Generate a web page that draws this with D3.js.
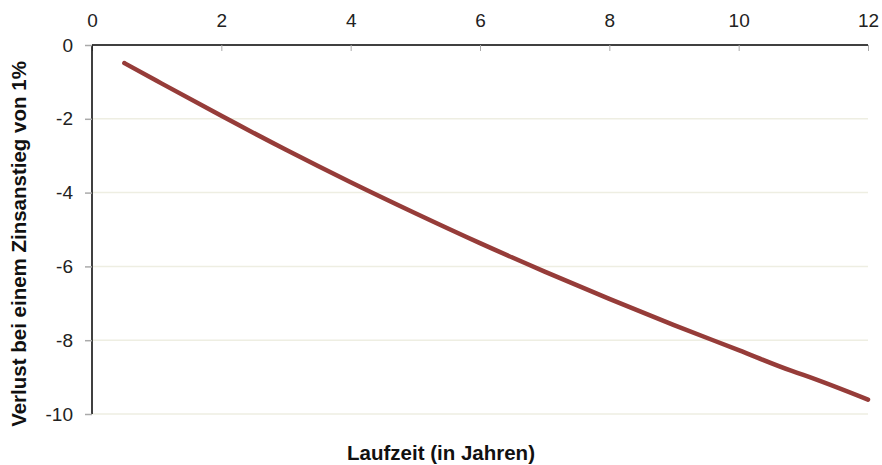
<!DOCTYPE html>
<html>
<head>
<meta charset="utf-8">
<script src="https://cdn.jsdelivr.net/npm/d3@7"></script>
<style>
  body { margin: 0; background: #fff; }
  text { font-family: "Liberation Sans", Arial, sans-serif; }
</style>
</head>
<body>
<div id="chart-area"></div>
<script>
// data
const laufzeit = [0.5, 1, 2, 3, 4, 5, 6, 7, 8, 9, 10, 10.8, 11, 12];
const verlust = [-0.49, -0.97, -1.92, -2.84, -3.72, -4.56, -5.37, -6.14, -6.88, -7.59, -8.27, -8.82, -8.94, -9.61];
const xTicks = [0, 2, 4, 6, 8, 10, 12];
const yTicks = [0, -2, -4, -6, -8, -10];

const canvasWidth = 882;
const canvasHeight = 465;
const margin = {top: 45, left: 92, right: 14, bottom: 51};
const graphWidth = canvasWidth - margin.left - margin.right;
const graphHeight = canvasHeight - margin.top - margin.bottom;

var svg = d3.select("#chart-area")
    .append("svg")
        .attr("width", canvasWidth)
        .attr("height", canvasHeight);
var main = svg.append("g")
        .attr("transform", "translate(" + margin.left + ", " + margin.top + ")");

// scales
var x = d3.scaleLinear().domain([0, 12]).range([0, graphWidth]);
var y = d3.scaleLinear().domain([0, -10]).range([0, graphHeight]);

// gridlines
main.selectAll(".grid")
    .data(yTicks.filter(d => d != 0))
    .enter().append("line")
        .attr("class", "grid")
        .attr("x1", 0)
        .attr("x2", graphWidth)
        .attr("y1", d => y(d))
        .attr("y2", d => y(d))
        .attr("stroke", "#eeeee2")
        .attr("stroke-width", 1.5);

// x axis on top
var xAxis = d3.axisTop(x).tickValues(xTicks).tickSize(-6).tickFormat(d3.format("d"));
var xAxisGroup = main.append("g").call(xAxis);
xAxisGroup.select(".domain").attr("stroke", "#000").attr("stroke-width", 1.5).attr("d", "M0,0H" + graphWidth);
xAxisGroup.selectAll(".tick line").attr("stroke", "#aaa");
xAxisGroup.selectAll(".tick text")
    .attr("font-size", "19px")
    .attr("fill", "#222")
    .attr("y", -18);

// y axis, plain hyphen for minus like the original
var yAxis = d3.axisLeft(y).tickValues(yTicks).tickSize(7).tickFormat(d => String(d));
var yAxisGroup = main.append("g").call(yAxis);
yAxisGroup.select(".domain").attr("stroke", "#000").attr("stroke-width", 1.5).attr("d", "M0,0V" + graphHeight);
yAxisGroup.selectAll(".tick line").attr("stroke", "#aaa").attr("stroke-width", 1.5);
yAxisGroup.selectAll(".tick text")
    .attr("font-size", "19px")
    .attr("fill", "#222")
    .attr("x", -19);

// line
var line = d3.line()
    .x((d, i) => x(laufzeit[i]))
    .y(d => y(d))
    .curve(d3.curveMonotoneX);
main.append("path")
    .datum(verlust)
    .attr("fill", "none")
    .attr("stroke", "#963c39")
    .attr("stroke-width", 4.5)
    .attr("stroke-linecap", "round")
    .attr("stroke-linejoin", "round")
    .attr("d", line);

// axis titles
svg.append("text")
    .attr("x", 441)
    .attr("y", 460)
    .attr("font-size", "20.5px")
    .attr("font-weight", "bold")
    .attr("text-anchor", "middle")
    .attr("fill", "#111")
    .text("Laufzeit (in Jahren)");

svg.append("text")
    .attr("transform", "rotate(-90)")
    .attr("x", -244)
    .attr("y", 26)
    .attr("font-size", "20.5px")
    .attr("font-weight", "bold")
    .attr("text-anchor", "middle")
    .attr("fill", "#111")
    .text("Verlust bei einem Zinsanstieg von 1%");
</script>
</body>
</html>
